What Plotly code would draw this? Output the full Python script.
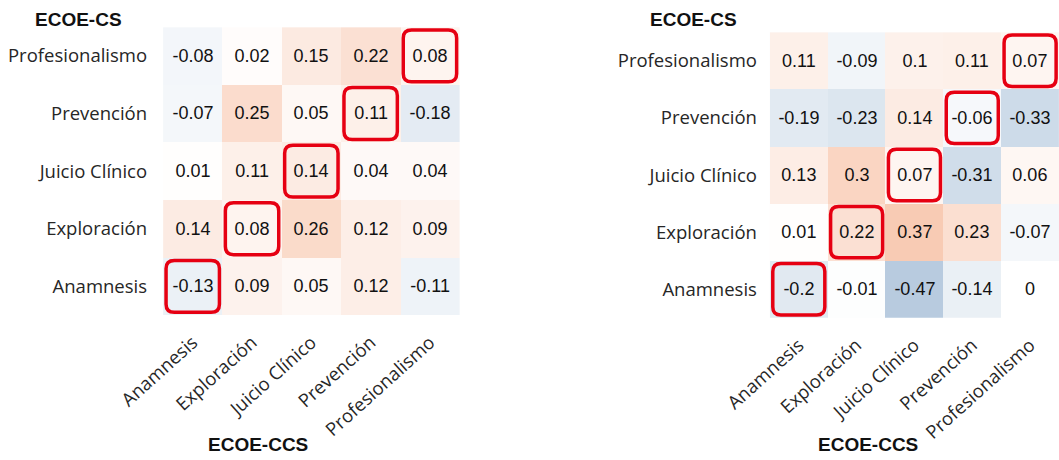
import plotly.graph_objects as go

categories = ["Anamnesis", "Exploración", "Juicio Clínico", "Prevención", "Profesionalismo"]

# rows follow categories from bottom (Anamnesis) to top (Profesionalismo)
left_values = [
    [-0.13, 0.09, 0.05, 0.12, -0.11],
    [0.14, 0.08, 0.26, 0.12, 0.09],
    [0.01, 0.11, 0.14, 0.04, 0.04],
    [-0.07, 0.25, 0.05, 0.11, -0.18],
    [-0.08, 0.02, 0.15, 0.22, 0.08],
]
right_values = [
    [-0.2, -0.01, -0.47, -0.14, 0],
    [0.01, 0.22, 0.37, 0.23, -0.07],
    [0.13, 0.3, 0.07, -0.31, 0.06],
    [-0.19, -0.23, 0.14, -0.06, -0.33],
    [0.11, -0.09, 0.1, 0.11, 0.07],
]
y_title = "ECOE-CS"
x_title = "ECOE-CCS"

colorscale = [[0.0, "#B3C8DD"], [0.5, "#FFFFFF"], [1.0, "#F6B99A"]]
label_font = dict(family="Open Sans, Noto Sans, sans-serif", size=18.5, color="#262626")
value_font = dict(family="Liberation Sans, Arial, sans-serif", size=18, color="#111111")
title_font = dict(family="Liberation Sans, Arial, sans-serif", size=19, color="#111111")

fig = go.Figure()
for i, vals in enumerate([left_values, right_values]):
    sfx = "" if i == 0 else str(i + 1)
    txt = [[str(v) for v in row] for row in vals]
    fig.add_trace(go.Heatmap(
        z=vals, x=categories, y=categories, text=txt,
        colorscale=colorscale, zmin=-0.5, zmax=0.5, showscale=False,
        texttemplate="%{text}", textfont=value_font,
        xaxis="x" + sfx, yaxis="y" + sfx, hoverinfo="skip",
    ))
    # red rounded boxes on the diagonal
    for k in range(len(categories)):
        ins, rx, ry = 0.05, 0.14, 0.14
        x0, x1 = k - 0.5 + ins, k + 0.5 - ins
        y0, y1 = k - 0.5 + ins, k + 0.5 - ins
        path = (f"M {x0+rx},{y0} L {x1-rx},{y0} Q {x1},{y0} {x1},{y0+ry} "
                f"L {x1},{y1-ry} Q {x1},{y1} {x1-rx},{y1} L {x0+rx},{y1} "
                f"Q {x0},{y1} {x0},{y1-ry} L {x0},{y0+ry} Q {x0},{y0} {x0+rx},{y0} Z")
        fig.add_shape(type="path", path=path, xref="x" + sfx, yref="y" + sfx,
                      line=dict(color="#E60012", width=3.5), fillcolor="rgba(0,0,0,0)")

axis_common = dict(showgrid=False, zeroline=False, showline=False, ticks="",
                   tickfont=label_font, automargin=False, fixedrange=True)

fig.update_layout(
    width=1059, height=460, margin=dict(l=0, r=0, t=0, b=0),
    paper_bgcolor="white", plot_bgcolor="white",
    xaxis=dict(domain=[0.154, 0.434], anchor="y", range=[-0.5, 4.5],
               tickangle=-42, ticklabelstandoff=12, **axis_common),
    yaxis=dict(domain=[0.315, 0.941], anchor="x", range=[-0.5, 4.5],
               ticklabelstandoff=15, **axis_common),
    xaxis2=dict(domain=[0.727, 1.0], anchor="y2", range=[-0.5, 4.5],
                tickangle=-42, ticklabelstandoff=12, **axis_common),
    yaxis2=dict(domain=[0.309, 0.930], anchor="x2", range=[-0.5, 4.5],
                ticklabelstandoff=12, **axis_common),
)
titles = [(y_title, 78, 20), (y_title, 693, 20), (x_title, 258, 444), (x_title, 868, 444)]
for t, px, py in titles:
    fig.add_annotation(text=f"<b>{t}</b>", x=px / 1059, y=1 - py / 460,
                       xref="paper", yref="paper", xanchor="center", yanchor="middle",
                       showarrow=False, font=title_font)

fig.write_html("out.html")
